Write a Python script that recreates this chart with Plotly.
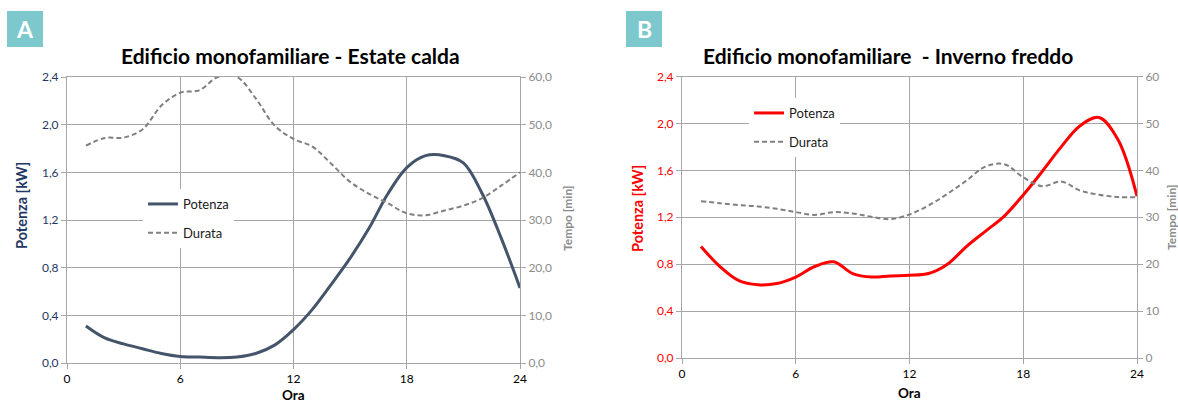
import plotly.graph_objects as go

# Hourly profiles (hour of day 1..24)
ore = list(range(1, 25))

# Panel A - summer
potenza_estate = [0.31, 0.21, 0.16, 0.12, 0.08, 0.055, 0.05, 0.045, 0.05, 0.08, 0.15, 0.28,
                  0.45, 0.66, 0.88, 1.13, 1.42, 1.64, 1.74, 1.74, 1.68, 1.42, 1.05, 0.63]
durata_estate = [45.6, 47.2, 47.3, 49.0, 54.0, 56.7, 57.2, 60.0, 60.0, 55.5, 49.8, 47.0,
                 45.4, 41.8, 38.0, 35.5, 33.5, 31.4, 31.0, 32.0, 33.0, 34.6, 37.2, 40.0]

# Panel B - winter
potenza_inverno = [0.95, 0.78, 0.66, 0.625, 0.635, 0.69, 0.78, 0.82, 0.72, 0.69, 0.70, 0.705,
                   0.72, 0.80, 0.95, 1.08, 1.21, 1.39, 1.59, 1.80, 1.98, 2.05, 1.86, 1.38]
durata_inverno = [33.4, 33.0, 32.6, 32.3, 31.8, 31.1, 30.5, 31.1, 30.8, 30.1, 29.6, 30.6,
                  32.5, 35.0, 37.8, 40.8, 41.3, 38.5, 36.6, 37.6, 35.7, 34.8, 34.3, 34.3]

# Axis ticks
ora_ticks = [0, 6, 12, 18, 24]
kw_ticks = [0.0, 0.4, 0.8, 1.2, 1.6, 2.0, 2.4]
kw_labels = ["0,0", "0,4", "0,8", "1,2", "1,6", "2,0", "2,4"]
min_ticks = [0, 10, 20, 30, 40, 50, 60]
min_labels_a = ["0,0", "10,0", "20,0", "30,0", "40,0", "50,0", "60,0"]
min_labels_b = ["0", "10", "20", "30", "40", "50", "60"]

FONT = "Lato, 'Open Sans', sans-serif"
GRID = "#A6A6A6"
NAVY = "#1F3864"
SLATE = "#44546A"
RED = "#FF0000"
GREY = "#808080"
TEAL = "#7CC8CC"

W, H = 1178, 403


def px(x):
    return x / W


def py(y):
    return 1 - y / H


fig = go.Figure()

fig.add_trace(go.Scatter(x=ore, y=potenza_estate, name="Potenza", mode="lines",
                         line=dict(color=SLATE, width=3, shape="spline", smoothing=1),
                         xaxis="x", yaxis="y", legend="legend", legendgroup="a1"))
fig.add_trace(go.Scatter(x=ore, y=durata_estate, name="Durata", mode="lines",
                         line=dict(color=GREY, width=2, dash="5px,3px", shape="spline", smoothing=1),
                         xaxis="x", yaxis="y2", legend="legend", legendgroup="a2"))
fig.add_trace(go.Scatter(x=ore, y=potenza_inverno, name="Potenza", mode="lines",
                         line=dict(color=RED, width=3, shape="spline", smoothing=1),
                         xaxis="x2", yaxis="y3", legend="legend2", legendgroup="b1"))
fig.add_trace(go.Scatter(x=ore, y=durata_inverno, name="Durata", mode="lines",
                         line=dict(color=GREY, width=2, dash="5px,3px", shape="spline", smoothing=1),
                         xaxis="x2", yaxis="y4", legend="legend2", legendgroup="b2"))

dom_a_x = [px(67), px(520)]
dom_a_y = [py(363), py(77)]
dom_b_x = [px(682), px(1137)]
dom_b_y = [py(358), py(76.5)]

common_x = dict(range=[0, 24], tickvals=ora_ticks, ticktext=[str(t) for t in ora_ticks],
                showgrid=True, gridcolor=GRID, gridwidth=1, showline=True, linecolor=GRID,
                linewidth=1, mirror=True, ticks="outside", ticklen=5, tickcolor=GRID,
                tickfont=dict(family=FONT, size=12, color="#000000"), zeroline=False,
                automargin=False, fixedrange=True)
common_y = dict(showgrid=True, gridcolor=GRID, gridwidth=1, showline=True, linecolor=GRID,
                linewidth=1, ticks="outside", ticklen=5, tickcolor=GRID, zeroline=False,
                automargin=False)
right_y = dict(showgrid=False, showline=True, linecolor=GRID, ticks="outside", ticklen=5,
               tickcolor=GRID, zeroline=False, automargin=False, range=[0, 60],
               tickvals=min_ticks, tickfont=dict(family=FONT, size=12, color="#8C8C8C"))

legend_style = dict(xanchor="left", yanchor="top", bgcolor="white", borderwidth=0,
                    font=dict(family=FONT, size=13, color="#1a1a1a"),
                    tracegroupgap=9, itemwidth=30)

fig.update_layout(
    width=W, height=H,
    margin=dict(l=0, r=0, t=0, b=0, pad=0, autoexpand=False),
    paper_bgcolor="white", plot_bgcolor="white",
    font=dict(family=FONT),
    xaxis=dict(domain=dom_a_x, anchor="y", **common_x),
    yaxis=dict(domain=dom_a_y, anchor="x", range=[0, 2.4], tickvals=kw_ticks, ticktext=kw_labels,
               tickfont=dict(family=FONT, size=12, color=NAVY), **common_y),
    yaxis2=dict(overlaying="y", side="right", anchor="x", ticktext=min_labels_a, **right_y),
    xaxis2=dict(domain=dom_b_x, anchor="y3", **common_x),
    yaxis3=dict(domain=dom_b_y, anchor="x2", range=[0, 2.4], tickvals=kw_ticks, ticktext=kw_labels,
                tickfont=dict(family=FONT, size=12, color=RED), **common_y),
    yaxis4=dict(overlaying="y3", side="right", anchor="x2", ticktext=min_labels_b, **right_y),
    legend=dict(x=px(143), y=py(189), **legend_style),
    legend2=dict(x=px(749), y=py(98), **legend_style),
    showlegend=True,
)

# Panel badges
for x0, letter in [(7, "A"), (626, "B")]:
    fig.add_shape(type="rect", xref="paper", yref="paper", x0=px(x0), x1=px(x0 + 36),
                  y0=py(47), y1=py(11), fillcolor=TEAL, line=dict(width=0))
    fig.add_annotation(x=px(x0 + 18), y=py(29), xref="paper", yref="paper", text=f"<b>{letter}</b>",
                       xanchor="center", yanchor="middle", showarrow=False,
                       font=dict(family=FONT, size=23, color="white"))

titles = [
    (290, "Edificio monofamiliare - Estate calda"),
    (888, "Edificio monofamiliare\u00a0 - Inverno freddo"),
]
for xc, t in titles:
    fig.add_annotation(x=px(xc), y=py(55), xref="paper", yref="paper", text=f"<b>{t}</b>",
                       xanchor="center", yanchor="middle", showarrow=False,
                       font=dict(family=FONT, size=21, color="#000000"))


def label(x, y, text, size, color, angle=0):
    fig.add_annotation(x=px(x), y=py(y), xref="paper", yref="paper", text=f"<b>{text}</b>",
                       xanchor="center", yanchor="middle", textangle=angle, showarrow=False,
                       font=dict(family=FONT, size=size, color=color))


# Axis titles
label(21, 206, "Potenza [kW]", 14.5, NAVY, -90)
label(637, 209, "Potenza [kW]", 14.5, RED, -90)
label(567, 218, "Tempo [min]", 12, "#8C8C8C", -90)
label(1171, 217, "Tempo [min]", 12, "#8C8C8C", -90)
label(293, 395, "Ora", 13.5, "#000000")
label(909, 393, "Ora", 13.5, "#000000")

fig.write_html("out.html")
